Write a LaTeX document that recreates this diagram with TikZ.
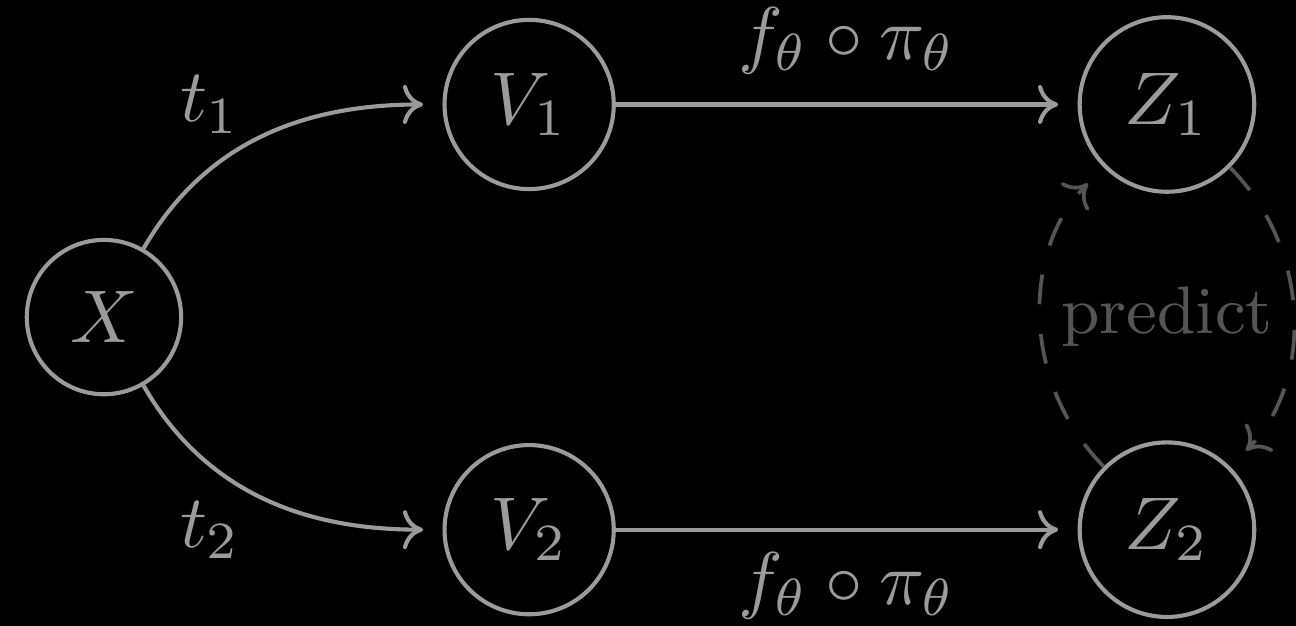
\documentclass[tikz,border=0pt]{standalone}
\usetikzlibrary{arrows.meta}
\definecolor{maincol}{RGB}{155,155,155}
\definecolor{dimcol}{RGB}{85,85,85}
\begin{document}
\begin{tikzpicture}[
  var/.style={circle,draw=maincol,line width=0.55pt,text=maincol},
  conn/.style={draw=maincol,line width=0.55pt,-{To[length=2.7pt,width=5.2pt]},shorten >=2.6pt},
  pred/.style={draw=dimcol,line width=0.5pt,dash pattern=on 4pt off 4pt,-{To[length=2.7pt,width=5.2pt]},shorten >=3pt},
  lab/.style={text=maincol}
]
\fill[black] (-0.489,-1.4525) rectangle (5.607,1.4915);
\useasboundingbox (-0.489,-1.4525) rectangle (5.607,1.4915);
\node[var] (X) at (0,0) {$X$};
\node[var] (V1) at (2,1) {$V_1$};
\node[var] (V2) at (2,-1) {$V_2$};
\node[var] (Z1) at (5,1) {$Z_1$};
\node[var] (Z2) at (5,-1) {$Z_2$};
\node[lab] (t1) at (0.5,1) {$t_1$};
\node[lab] (t2) at (0.5,-1) {$t_2$};
\draw[conn] (X) to[out=60,in=180] (V1);
\draw[conn] (X) to[out=-60,in=180] (V2);
\draw[conn] (V1) -- node[lab,midway,above=0.5pt] (f1) {$f_\theta\circ\pi_\theta$} (Z1);
\draw[conn] (V2) -- node[lab,midway,below=-0.5pt] (f2) {$f_\theta\circ\pi_\theta$} (Z2);
\draw[pred] (Z1) to[bend left=45] (Z2);
\draw[pred] (Z2) to[bend left=45] (Z1);
\node[text=dimcol,font=\small] (p) at (5,0) {predict};
\end{tikzpicture}
\end{document}
